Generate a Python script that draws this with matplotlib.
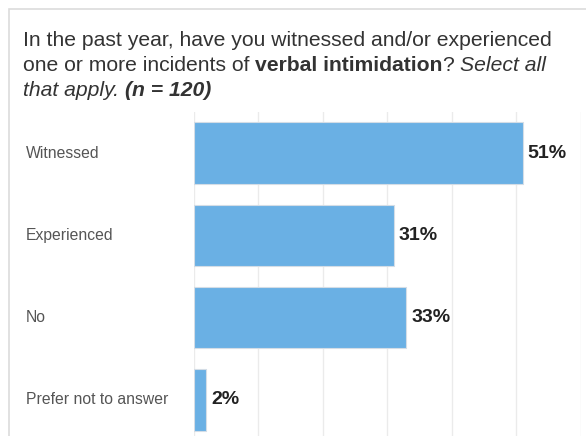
import matplotlib
matplotlib.use("Agg")
import matplotlib.pyplot as plt
from matplotlib.patches import Rectangle
import matplotlib.transforms as mtransforms

categories = ["Witnessed", "Experienced", "No", "Prefer not to answer"]
values = [51, 31, 33, 2]
value_labels = ["51%", "31%", "33%", "2%"]
grid_ticks = [0, 10, 20, 30, 40, 50, 60]

W, H = 586, 436
fig = plt.figure(figsize=(W / 100, H / 100), dpi=100)
plt.rcParams["font.family"] = ["Liberation Sans", "DejaVu Sans"]

# light frame around the card
fig.patches.append(Rectangle((9.5 / W, -0.1), 1.2, 1 - 9.5 / H + 0.1,
                             transform=fig.transFigure, fill=False,
                             edgecolor="#dcdcdc", linewidth=1.2))

# title, drawn piece by piece for the mixed styles
renderer = fig.canvas.get_renderer()
title_lines = [
    [("In the past year, have you witnessed and/or experienced", "normal", "normal")],
    [("one or more incidents of ", "normal", "normal"),
     ("verbal intimidation", "bold", "normal"),
     ("? ", "normal", "normal"),
     ("Select all", "normal", "italic")],
    [("that apply. ", "normal", "italic"),
     ("(n = 120)", "bold", "italic")],
]
baselines = [46, 71, 96]
for line, yb in zip(title_lines, baselines):
    x = 23
    for txt, weight, style in line:
        t = fig.text(x / W, 1 - yb / H, txt, fontsize=15.2, color="#333333",
                     fontweight=weight, fontstyle=style, va="baseline", ha="left")
        bb = t.get_window_extent(renderer=renderer)
        x += bb.width

ax = fig.add_axes([193.6 / W, 1 - 441 / H, 387 / W, 329 / H])
ax.set_xlim(0, 60)
ax.set_ylim(3.5, -0.5)
for s in ax.spines.values():
    s.set_visible(False)
ax.set_xticks(grid_ticks)
ax.set_yticks([])
ax.tick_params(axis="x", length=0, labelbottom=False)
ax.grid(axis="x", color="#ebebeb", linewidth=1)
ax.set_axisbelow(True)

ypos = list(range(len(categories)))
ax.barh(ypos, values, height=0.75, color="#6ab0e4", edgecolor="#d4dde6", linewidth=0.8)

label_tf = mtransforms.blended_transform_factory(fig.transFigure, ax.transData)
for y, cat in zip(ypos, categories):
    ax.text(26 / W, y, cat, transform=label_tf, ha="left", va="center",
            fontsize=11.3, color="#555555")

offset = mtransforms.offset_copy(ax.transData, fig=fig, x=5, y=0, units="dots")
for y, v, lab in zip(ypos, values, value_labels):
    ax.text(v, y, lab, transform=offset, ha="left", va="center",
            fontsize=14, fontweight="bold", color="#222222")

fig.savefig("out.png", dpi=100)
